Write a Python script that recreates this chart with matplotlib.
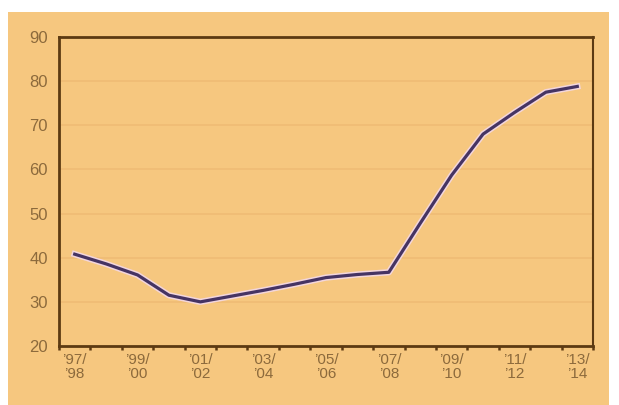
import matplotlib.pyplot as plt
import matplotlib.patheffects as pe
from matplotlib.patches import Rectangle
import numpy as np

seasons = ['97/98', '98/99', '99/00', '00/01', '01/02', '02/03', '03/04', '04/05',
           '05/06', '06/07', '07/08', '08/09', '09/10', '10/11', '11/12', '12/13', '13/14']
values = [40.8, 38.6, 36.1, 31.5, 30.0, 31.3, 32.6, 34.0,
          35.5, 36.2, 36.7, 47.8, 58.7, 68.0, 72.9, 77.5, 78.8]
label_every = 2

bg = '#f6c77f'
brown = '#5c3a12'
text_col = '#8c6a3c'

plt.rcParams['font.family'] = ['Liberation Sans', 'DejaVu Sans']

fig = plt.figure(figsize=(6.19, 4.05), dpi=100, facecolor='white')
fig.patches.append(Rectangle((8 / 619, 0), 601 / 619, 393 / 405,
                             transform=fig.transFigure, facecolor=bg,
                             edgecolor='none', zorder=-10))

ax = fig.add_axes([59 / 619, 59 / 405, 534 / 619, 309 / 405])
ax.set_facecolor('none')

x = np.arange(len(seasons))
ax.plot(x, values, color='#463463', lw=2.3, solid_joinstyle='round',
        path_effects=[pe.Stroke(linewidth=4.5, foreground='#f3d6dc'), pe.Normal()])

ax.set_xlim(-0.5, len(seasons) - 0.5)
ax.set_ylim(20, 90)
ax.set_yticks(range(20, 91, 10))

for yv in range(30, 90, 10):
    ax.axhline(yv, color='#ebb56f', lw=1.2, alpha=0.6, zorder=0)

# year labels like '97/ over '98
lab_pos = x[::label_every]
labs = []
for s in seasons[::label_every]:
    a, b = s.split('/')
    labs.append('\u2019' + a + '/\n\u2019' + b)
ax.set_xticks(lab_pos)
ax.set_xticklabels(labs, linespacing=1.0)
ax.set_xticks(np.arange(-0.5, len(seasons) + 0.5, 1), minor=True)

ax.tick_params(axis='x', which='major', length=0, pad=5, labelsize=11, labelcolor=text_col)
ax.tick_params(axis='x', which='minor', length=3, width=1.8, color=brown, direction='out')
ax.tick_params(axis='y', length=0, pad=8, labelsize=12, labelcolor=text_col)

for side in ['left', 'bottom', 'top']:
    ax.spines[side].set_color(brown)
    ax.spines[side].set_linewidth(2)
ax.spines['right'].set_color(brown)
ax.spines['right'].set_linewidth(1.5)

fig.savefig('out.png', dpi=100, facecolor='white')
